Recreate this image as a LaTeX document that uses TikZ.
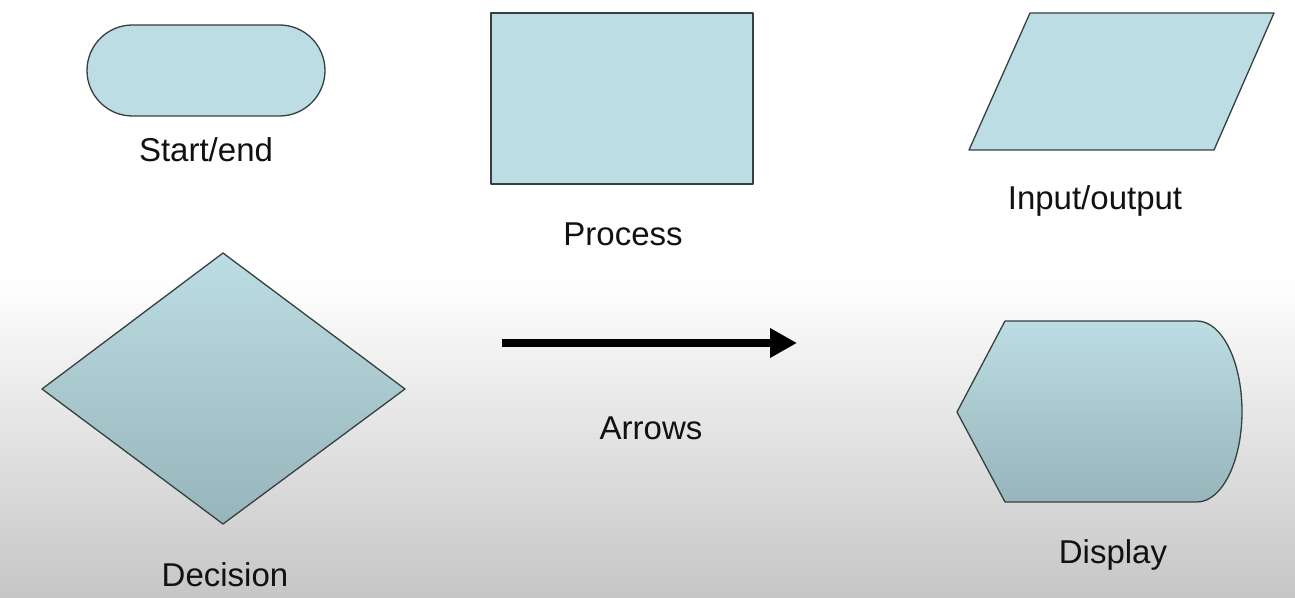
\documentclass[tikz,border=0pt]{standalone}
\usepackage{fontspec}
\setmainfont{Liberation Sans}
\usetikzlibrary{arrows.meta}
\definecolor{shapefill}{HTML}{BCDDE3}
\definecolor{shapefilldark}{HTML}{97B5BB}
\definecolor{shapeline}{HTML}{35403F}
\definecolor{bggray}{HTML}{C6C6C6}
\definecolor{textcol}{HTML}{111111}
\begin{document}
\begin{tikzpicture}[x=1pt,y=1pt,
  shapestyle/.style={draw=shapeline, line width=1.3pt, fill=shapefill, line join=round},
  shadedshape/.style={draw=shapeline, line width=1.3pt, top color=shapefill, bottom color=shapefilldark, line join=round},
  lbl/.style={font=\fontsize{33}{39}\selectfont, text=textcol, inner sep=0pt},
  bigarrow/.style={line width=8.5pt, -{Triangle[length=27pt,width=28pt]}}]
% background
\fill[white] (0,0) rectangle (1295,597);
\shade[top color=white, bottom color=bggray] (0,0) rectangle (1295,320);
\useasboundingbox (0,0) rectangle (1295,597);
% start/end
\path[shapestyle] (132.5,572) -- (279.5,572) arc[start angle=90,end angle=-90,radius=45.5]
  -- (132.5,481) arc[start angle=270,end angle=90,radius=45.5] -- cycle;
\node[lbl] (startlbl) at (206,447) {Start/end};
% process
\path[shapestyle] (491,584) rectangle (753,413);
\node[lbl] (proclbl) at (623,363) {Process};
% input/output
\path[shapestyle] (1030,584) -- (1274,584) -- (1214,447) -- (969,447) -- cycle;
\node[lbl] (iolbl) at (1095,396) {Input/output};
% decision
\path[shadedshape] (223,344) -- (405,208) -- (223,73) -- (42,208) -- cycle;
\node[lbl] (declbl) at (225,22) {Decision};
% arrow
\coordinate (arrA) at (502,254);
\coordinate (arrB) at (797,254);
\draw[bigarrow] (arrA) -- (arrB);
\node[lbl] (arrlbl) at (651,169) {Arrows};
% display
\path[shadedshape] (957,185) -- (1005,276) -- (1197,276)
  arc[start angle=90,end angle=-90,x radius=45,y radius=90.5]
  -- (1005,95) -- cycle;
\node[lbl] (displbl) at (1113,42) {Display};
\end{tikzpicture}
\end{document}
